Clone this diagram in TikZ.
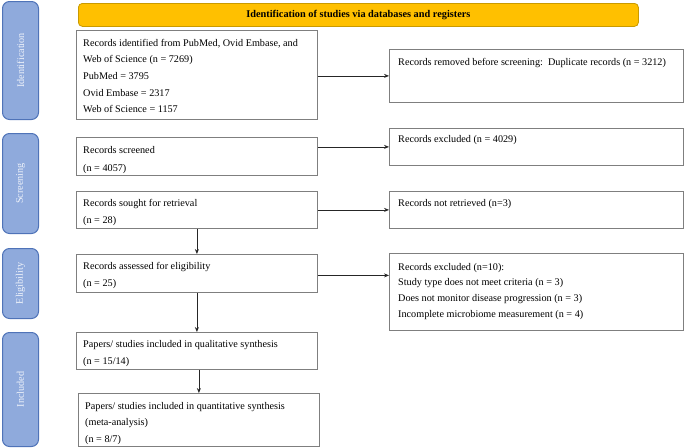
\documentclass[tikz,border=0pt]{standalone}
\usepackage{fontspec}
\setmainfont{Liberation Serif}
\usetikzlibrary{arrows.meta,calc}
\definecolor{sidefill}{HTML}{8FAADC}
\definecolor{sidedraw}{HTML}{4F73B8}
\definecolor{sidetext}{HTML}{EEF2FA}
\definecolor{headfill}{HTML}{FFC000}
\definecolor{headdraw}{HTML}{C99A00}
\definecolor{boxdraw}{HTML}{7F7F7F}
\begin{document}
\begin{tikzpicture}[x=1pt,y=-1pt,
 side/.style={draw=sidedraw, fill=sidefill, line width=1pt, rounded corners=7pt, anchor=north west, inner sep=0, minimum width=36pt},
 sidelabel/.style={rotate=90, text=sidetext, inner sep=0, font=\fontsize{10.2}{12}\selectfont},
 head/.style={draw=headdraw, fill=headfill, line width=0.8pt, rounded corners=4pt, anchor=north west, inner sep=0, minimum width=560pt, minimum height=23pt, font=\bfseries\fontsize{10.3}{12}\selectfont},
 bx/.style={draw=boxdraw, line width=0.8pt, anchor=north west, inner sep=0},
 txt/.style={anchor=north west, align=left, inner sep=0, font=\fontsize{10.2}{16.6}\selectfont},
 arr/.style={draw=black!85, line width=0.7pt, -{Stealth[length=5pt,width=4pt]}}]
\useasboundingbox (0,0) rectangle (685,447);

% side bars
\node[side, minimum height=118pt] (sid) at (2,1) {};
\node[sidelabel] (sidl) at (sid.center) {Identification};
\node[side, minimum height=100pt] (sscr) at (2,133) {};
\node[sidelabel] (sscrl) at (sscr.center) {Screening};
\node[side, minimum height=70pt] (sel) at (2,248) {};
\node[sidelabel] (sell) at (sel.center) {Eligibility};
\node[side, minimum height=114pt] (sinc) at (2,332) {};
\node[sidelabel] (sincl) at (sinc.center) {Included};

% header
\node[head] (hd) at (78,3) {Identification of studies via databases and registers};

% left column
\node[bx, minimum width=241pt, minimum height=89pt] (rid) at (76,30) {};
\node[txt] (ridt) at ($(rid.north west)+(7,9)$) {Records identified from PubMed, Ovid Embase, and\\Web of Science (n = 7269)\\PubMed = 3795\\Ovid Embase = 2317\\Web of Science = 1157};

\node[bx, minimum width=241pt, minimum height=38pt] (scr) at (76,137) {};
\node[txt, font=\fontsize{10.2}{17.8}\selectfont] (scrt) at ($(scr.north west)+(7,9)$) {Records screened\\(n = 4057)};

\node[bx, minimum width=241pt, minimum height=37pt] (sou) at (76,191) {};
\node[txt, font=\fontsize{10.2}{17.5}\selectfont] (sout) at ($(sou.north west)+(7,8)$) {Records sought for retrieval\\(n = 28)};

\node[bx, minimum width=241pt, minimum height=38pt] (ass) at (76,254) {};
\node[txt, font=\fontsize{10.2}{17.5}\selectfont] (asst) at ($(ass.north west)+(7,8)$) {Records assessed for eligibility\\(n = 25)};

\node[bx, minimum width=241pt, minimum height=37pt] (qual) at (76,332) {};
\node[txt, font=\fontsize{10.2}{17.5}\selectfont] (qualt) at ($(qual.north west)+(7,8)$) {Papers/ studies included in qualitative synthesis\\(n = 15/14)};

\node[bx, minimum width=241pt, minimum height=53pt] (quan) at (78,393) {};
\node[txt, font=\fontsize{10.2}{16.7}\selectfont] (quant) at ($(quan.north west)+(7,9)$) {Papers/ studies included in quantitative synthesis\\(meta-analysis)\\(n = 8/7)};

% right column
\node[bx, minimum width=294pt, minimum height=53pt] (rem) at (389,49) {};
\node[txt] (remt) at ($(rem.north west)+(9,9)$) {Records removed before screening:\ \ Duplicate records (n = 3212)};

\node[bx, minimum width=294pt, minimum height=37pt] (exc) at (389,128) {};
\node[txt] (exct) at ($(exc.north west)+(9,7)$) {Records excluded (n = 4029)};

\node[bx, minimum width=294pt, minimum height=37pt] (nret) at (389,191) {};
\node[txt] (nrett) at ($(nret.north west)+(9,8)$) {Records not retrieved (n=3)};

\node[bx, minimum width=294pt, minimum height=77pt] (exc2) at (389,253) {};
\node[txt, font=\fontsize{10.2}{15.6}\selectfont] (exc2t) at ($(exc2.north west)+(9,10)$) {Records excluded (n=10):\\Study type does not meet criteria (n = 3)\\Does not monitor disease progression (n = 3)\\Incomplete microbiome measurement (n = 4)};

% connectors
\draw[arr] (rid.east |- rem.west) -- (rem.west);
\draw[arr] (scr.east |- exc.west) -- (exc.west);
\draw[arr] (sou.east |- nret.west) -- (nret.west);
\draw[arr] ($(ass.east)+(0,2)$) -- ($(ass.east -| exc2.west)+(0,2)$);
\draw[arr] (sou.south) -- (ass.north);
\draw[arr] (ass.south) -- (qual.north);
\draw[arr] (quan.north |- qual.south) -- (quan.north);
\end{tikzpicture}
\end{document}
